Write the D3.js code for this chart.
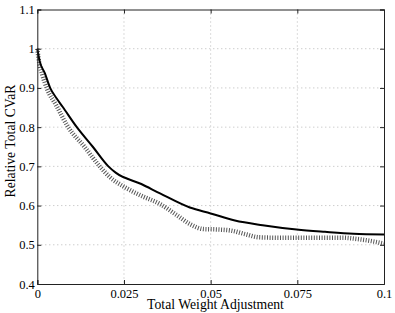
<!DOCTYPE html>
<html lang="en">
<head>
	<meta charset="UTF-8">
	<title>cvar</title>
	<style>
		* { margin: 0; padding: 0; }
		body { background: #fff; }
		svg { display: block; }
		text { font-family: "Liberation Serif", "DejaVu Serif", serif; fill: #000; }
	</style>
</head>
<body>
	<script src="https://cdn.jsdelivr.net/npm/d3@7"></script>
	<script>
		// tick values
		var xTicks = [0, 0.025, 0.05, 0.075, 0.1];
		var xTickLabels = ['0', '0.025', '0.05', '0.075', '0.1'];
		var yTicks = [0.4, 0.5, 0.6, 0.7, 0.8, 0.9, 1, 1.1];
		var yTickLabels = ['0.4', '0.5', '0.6', '0.7', '0.8', '0.9', '1', '1.1'];

		// solid curve
		var solidX = [0, 0.0006, 0.0022, 0.0037, 0.0056, 0.0073, 0.0114, 0.016, 0.0205, 0.0226, 0.030, 0.0354, 0.044, 0.050, 0.057, 0.065, 0.0748, 0.083, 0.0912, 0.1];
		var solidY = [1.0, 0.971, 0.937, 0.90, 0.873, 0.852, 0.80, 0.75, 0.70, 0.684, 0.655, 0.631, 0.595, 0.580, 0.562, 0.550, 0.539, 0.533, 0.528, 0.526];

		// dotted (hatched) curve
		var dotX = [0, 0.0006, 0.0014, 0.0027, 0.0055, 0.0089, 0.0136, 0.018, 0.021, 0.025, 0.030, 0.0354, 0.040, 0.044, 0.048, 0.052, 0.056, 0.060, 0.064, 0.070, 0.080, 0.088, 0.092, 0.096, 0.1];
		var dotY = [1.0, 0.962, 0.935, 0.90, 0.855, 0.80, 0.75, 0.70, 0.672, 0.648, 0.625, 0.604, 0.577, 0.553, 0.540, 0.539, 0.536, 0.527, 0.519, 0.518, 0.518, 0.518, 0.515, 0.510, 0.503];

		var width = 395, height = 313;
		// plot box (names avoid window.top)
		var box = { l: 37.3, r: 384, t: 9.5, b: 284 };

		var svg = d3.select('body').append('svg').attr('width', width).attr('height', height);

		var xScale = d3.scaleLinear().domain([0, 0.1]).range([box.l, box.r]);
		var yScale = d3.scaleLinear().domain([0.4, 1.1]).range([box.b, box.t]);

		// grid
		svg.append('g').selectAll('line')
			.data(xTicks.slice(1, -1))
			.enter().append('line')
			.attr('x1', function (d) { return xScale(d); })
			.attr('x2', function (d) { return xScale(d); })
			.attr('y1', box.t).attr('y2', box.b)
			.attr('stroke', '#b8b8b8').attr('stroke-width', 1)
			.attr('stroke-dasharray', '1,3');
		svg.append('g').selectAll('line')
			.data(yTicks.slice(1, -1))
			.enter().append('line')
			.attr('y1', function (d) { return yScale(d); })
			.attr('y2', function (d) { return yScale(d); })
			.attr('x1', box.l).attr('x2', box.r)
			.attr('stroke', '#b8b8b8').attr('stroke-width', 1)
			.attr('stroke-dasharray', '1,3');

		// lines
		var line = d3.line()
			.curve(d3.curveMonotoneX)
			.x(function (d) { return xScale(d[0]); })
			.y(function (d) { return yScale(d[1]); });

		svg.append('path')
			.datum(dotX.map(function (x, i) { return [x, dotY[i]]; }))
			.attr('d', line)
			.attr('fill', 'none')
			.attr('stroke', '#555')
			.attr('stroke-width', 4.5)
			.attr('stroke-dasharray', '1,1.6');

		svg.append('path')
			.datum(solidX.map(function (x, i) { return [x, solidY[i]]; }))
			.attr('d', line)
			.attr('fill', 'none')
			.attr('stroke', '#000')
			.attr('stroke-width', 2);

		// axes
		svg.append('g')
			.attr('transform', 'translate(0,' + box.b + ')')
			.call(d3.axisBottom(xScale).tickValues(xTicks).tickSize(-4).tickPadding(5)
				.tickFormat(function (d, i) { return xTickLabels[i]; }));
		svg.append('g')
			.attr('transform', 'translate(' + box.l + ',0)')
			.call(d3.axisLeft(yScale).tickValues(yTicks).tickSize(-4).tickPadding(2.5)
				.tickFormat(function (d, i) { return yTickLabels[i]; }));
		svg.append('g')
			.attr('transform', 'translate(0,' + box.t + ')')
			.call(d3.axisTop(xScale).tickValues(xTicks).tickSize(-4).tickFormat(''));
		svg.append('g')
			.attr('transform', 'translate(' + box.r + ',0)')
			.call(d3.axisRight(yScale).tickValues(yTicks).tickSize(-4).tickFormat(''));

		svg.selectAll('.domain').attr('stroke', '#222');
		svg.selectAll('.tick line').attr('stroke', '#222');
		svg.selectAll('.tick text')
			.style('font-family', '"Liberation Serif", serif')
			.style('font-size', '12.5px')
			.attr('fill', '#000');

		// axis titles
		svg.append('text')
			.attr('x', 215.5)
			.attr('y', 308.5)
			.attr('text-anchor', 'middle')
			.style('font-size', '13.7px')
			.text('Total Weight Adjustment');

		svg.append('text')
			.attr('transform', 'translate(15,141) rotate(-90)')
			.attr('text-anchor', 'middle')
			.style('font-size', '13.7px')
			.text('Relative Total CVaR');
	</script>
</body>
</html>
